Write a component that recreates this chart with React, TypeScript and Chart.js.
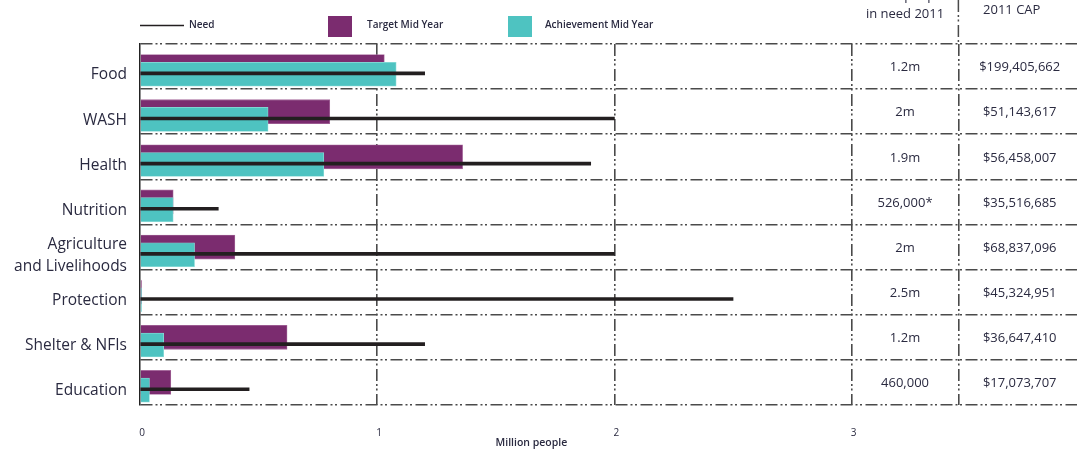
import React, { useEffect, useRef } from 'react';
import { Chart, registerables } from 'chart.js';

Chart.register(...registerables);

// ---- Data ----
const categories = [
  'Food',
  'WASH',
  'Health',
  'Nutrition',
  'Agriculture\nand Livelihoods',
  'Protection',
  'Shelter & NFIs',
  'Education',
];
const needValues = [1.2, 2.0, 1.9, 0.33, 2.0, 2.5, 1.2, 0.46];
const targetValues = [1.03, 0.8, 1.36, 0.14, 0.4, 0.006, 0.62, 0.13];
const achievementValues = [1.08, 0.54, 0.775, 0.14, 0.23, 0.006, 0.1, 0.04];
const peopleInNeed = ['1.2m', '2m', '1.9m', '526,000*', '2m', '2.5m', '1.2m', '460,000'];
const capRequirements = [
  '$199,405,662',
  '$51,143,617',
  '$56,458,007',
  '$35,516,685',
  '$68,837,096',
  '$45,324,951',
  '$36,647,410',
  '$17,073,707',
];
const xTickValues = [0, 1, 2, 3];
const tableHeaders = ['in need 2011', '2011 CAP'];
const tableHeadersTop = ['No. of people', 'Requirements'];
const legendLabels = ['Need', 'Target Mid Year', 'Achievement Mid Year'];
const axisTitle = 'Million people';

// ---- Layout / style constants ----
const X_MAX = 3.95;
const TABLE_DIVIDER = 3.45;
const ROW_SHIFT_LOWER = 0.17; // achievement bar sits slightly lower in each row
const NEED_SHIFT = 0.15;
const PURPLE = '#7b2c6f';
const CYAN = '#4ec3c1';
const NEED_COLOR = '#231f20';
const GRID_COLOR = '#4a4a4a';
const TEXT_COLOR = '#2a2a40';
const DASH = [12, 3, 2, 2.5, 2, 3.5];
const FONT = '"Open Sans", "Noto Sans", sans-serif';

const overlayPlugin = {
  id: 'overlay',
  afterDraw(chart: any) {
    const { ctx, chartArea, scales } = chart;
    const x = scales.x;
    const y = scales.y;
    ctx.save();

    // Legend
    ctx.strokeStyle = NEED_COLOR;
    ctx.lineWidth = 1.5;
    ctx.beginPath();
    ctx.moveTo(chartArea.left, 25.5);
    ctx.lineTo(chartArea.left + 44, 25.5);
    ctx.stroke();
    ctx.fillStyle = TEXT_COLOR;
    ctx.font = `600 10px ${FONT}`;
    ctx.textBaseline = 'middle';
    ctx.textAlign = 'left';
    ctx.fillText(legendLabels[0], 189, 25.5);
    ctx.fillStyle = PURPLE;
    ctx.fillRect(328, 16, 24, 21);
    ctx.fillStyle = TEXT_COLOR;
    ctx.fillText(legendLabels[1], 367, 25.5);
    ctx.fillStyle = CYAN;
    ctx.fillRect(508, 16, 24, 21);
    ctx.fillStyle = TEXT_COLOR;
    ctx.fillText(legendLabels[2], 545, 25.5);

    // Table columns
    const x3 = x.getPixelForValue(3);
    const xd = x.getPixelForValue(TABLE_DIVIDER);
    const col1 = (x3 + xd) / 2;
    const col2 = (xd + chartArea.right) / 2;

    // divider extension above chart
    ctx.strokeStyle = GRID_COLOR;
    ctx.lineWidth = 1.5;
    ctx.setLineDash(DASH);
    ctx.beginPath();
    ctx.moveTo(xd, 0);
    ctx.lineTo(xd, chartArea.top);
    ctx.stroke();
    ctx.setLineDash([]);

    ctx.fillStyle = TEXT_COLOR;
    ctx.font = `13px ${FONT}`;
    ctx.textAlign = 'center';
    ctx.textBaseline = 'alphabetic';
    ctx.fillText(tableHeadersTop[0], col1, 0);
    ctx.fillText(tableHeadersTop[1], col2 - 6, -3);
    ctx.textBaseline = 'middle';
    ctx.fillText(tableHeaders[0], col1, 14);
    ctx.fillText(tableHeaders[1], col2 - 6, 10);

    for (let i = 0; i < categories.length; i++) {
      const yy = y.getPixelForValue(i) + 1;
      ctx.fillText(peopleInNeed[i], col1, yy);
      ctx.fillText(capRequirements[i], col2 + 2, yy);
    }

    // Axis title
    ctx.font = `600 10.5px ${FONT}`;
    ctx.fillText(axisTitle, x.getPixelForValue(1.65), 443);
    ctx.restore();
  },
};

export default function App() {
  const canvasRef = useRef<HTMLCanvasElement | null>(null);

  useEffect(() => {
    if (!canvasRef.current) return;
    const yTicks: number[] = [];
    for (let v = -0.5; v <= categories.length - 0.5; v += 0.5) yTicks.push(v);

    const chart = new Chart(canvasRef.current, {
      type: 'bar',
      data: {
        datasets: [
          {
            label: legendLabels[0],
            data: needValues.map((v, i) => ({ x: v, y: i + NEED_SHIFT })),
            backgroundColor: NEED_COLOR,
            barThickness: 3,
            grouped: false,
            order: 0,
          },
          {
            label: legendLabels[2],
            data: achievementValues.map((v, i) => ({ x: v, y: i + ROW_SHIFT_LOWER })),
            backgroundColor: CYAN,
            borderColor: '#8fdcd8',
            borderWidth: 0.8,
            barThickness: 24,
            grouped: false,
            order: 1,
          },
          {
            label: legendLabels[1],
            data: targetValues.map((v, i) => ({ x: v, y: i })),
            backgroundColor: PURPLE,
            borderColor: '#a66a9c',
            borderWidth: 0.8,
            barThickness: 24,
            grouped: false,
            order: 2,
          },
        ] as any,
      },
      options: {
        indexAxis: 'y',
        responsive: false,
        animation: false,
        layout: { padding: { top: 44, right: 13, left: 0, bottom: 0 } },
        plugins: {
          legend: { display: false },
          tooltip: { enabled: false },
        },
        scales: {
          x: {
            type: 'linear',
            min: 0,
            max: X_MAX,
            offset: false,
            afterBuildTicks: (scale: any) => {
              scale.ticks = [...xTickValues, TABLE_DIVIDER].map((v) => ({ value: v }));
            },
            afterFit: (scale: any) => {
              scale.height = 44;
            },
            ticks: {
              autoSkip: false,
              maxRotation: 0,
              padding: 22,
              labelOffset: 2,
              color: TEXT_COLOR,
              font: { family: FONT, size: 10 },
              callback: (v: any) => (xTickValues.includes(v) ? String(v) : ''),
            },
            grid: {
              offset: false,
              drawTicks: false,
              lineWidth: 1.6,
              color: (ctx: any) => (ctx.tick && ctx.tick.value === 0 ? 'transparent' : GRID_COLOR),
            },
            border: { display: false, dash: DASH },
          },
          y: {
            type: 'linear',
            reverse: true,
            offset: false,
            min: -0.5,
            max: categories.length - 0.5,
            afterBuildTicks: (scale: any) => {
              scale.ticks = yTicks.map((v) => ({ value: v }));
            },
            afterFit: (scale: any) => {
              scale.width = 140;
            },
            ticks: {
              autoSkip: false,
              padding: 13,
              labelOffset: 8.5,
              color: TEXT_COLOR,
              font: { family: FONT, size: 15.5, lineHeight: 1.4 },
              callback: (v: any) => (Number.isInteger(v) ? categories[v].split('\n') : ''),
            },
            grid: {
              offset: false,
              drawTicks: false,
              lineWidth: 1.6,
              color: (ctx: any) =>
                ctx.tick && !Number.isInteger(ctx.tick.value) ? GRID_COLOR : 'transparent',
            },
            border: { display: true, color: '#222222', width: 1.5, dash: DASH },
          },
        },
      } as any,
      plugins: [overlayPlugin],
    });
    return () => chart.destroy();
  }, []);

  return (
    <div style={{ position: 'absolute', left: 0, top: 0, width: 1090, height: 449, background: '#fff' }}>
      <canvas ref={canvasRef} width={1090} height={449} style={{ display: 'block' }} />
    </div>
  );
}
